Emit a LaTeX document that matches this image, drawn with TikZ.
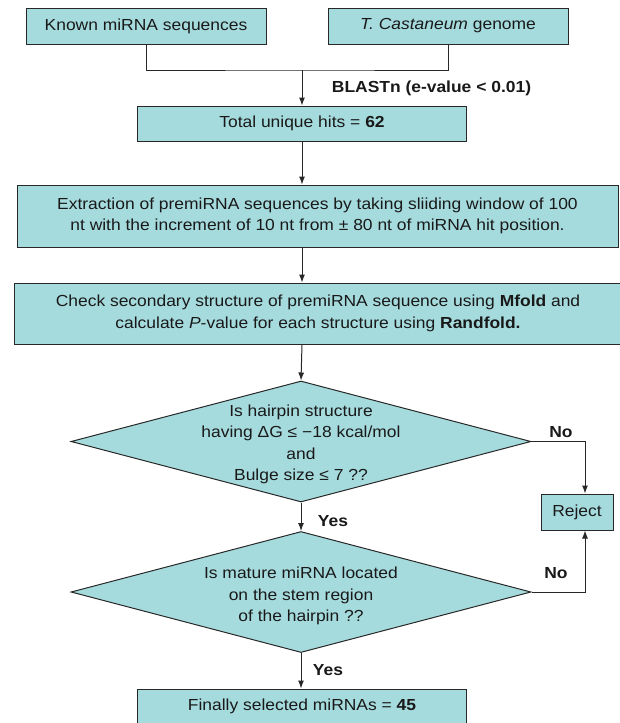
\documentclass[tikz,border=0pt]{standalone}
\usepackage{fontspec}
\setmainfont{Liberation Sans}[FakeStretch=1.09]
\usepackage{tikz}
\usetikzlibrary{shapes.geometric,arrows.meta,calc}
\definecolor{boxfill}{RGB}{166,219,222}
\definecolor{linegray}{RGB}{40,40,40}

\begin{document}
\begin{tikzpicture}[x=1pt,y=1pt,>={Latex[length=8pt,width=6pt]},
    every node/.style={font=\fontsize{16}{21.5}\selectfont, text=black!90},
    box/.style={draw=linegray, line width=1pt, fill=boxfill, inner sep=0pt, align=center},
    decision/.style={draw=linegray, line width=1pt, fill=boxfill, diamond, inner sep=0pt,
        minimum width=460pt, minimum height=121pt},
    link/.style={draw=linegray, line width=1pt},
    arrow/.style={link, ->},
    lbl/.style={font=\fontsize{16}{18}\selectfont\bfseries}]
    \useasboundingbox (0,0) rectangle (619,-723);

    % Inputs
    \node[box, minimum width=240pt, minimum height=36pt] (known) at (146,-26) {Known miRNA sequences};
    \node[box, minimum width=240pt, minimum height=36pt] (genome) at (448,-26) {\textit{T. Castaneum} genome};
    \coordinate (join) at (302,-70);
    \draw[link] (known.south) |- (join) -| (genome.south);

    % BLAST hits
    \node[box, minimum width=329pt, minimum height=35pt] (hits) at (302,-123.5) {Total unique hits = \textbf{62}};
    \draw[arrow] (join) -- (hits.north);
    \node[lbl] (blast) at (431.5,-88) {BLASTn (e-value < 0.01)};

    % Extraction
    \node[box, minimum width=601pt, minimum height=62pt] (extract) at (317.5,-216)
        {Extraction of premiRNA sequences by taking sliiding window of 100\\
         nt with the increment of 10 nt from ± 80 nt of miRNA hit position.};
    \draw[arrow] (hits.south) -- (hits.south |- extract.north);

    % Structure check
    \node[box, minimum width=608pt, minimum height=61pt] (check) at (318,-313.5)
        {Check secondary structure of premiRNA sequence using \textbf{Mfold} and\\
         calculate \textit{P}-value for each structure using \textbf{Randfold.}};
    \draw[arrow] (hits.south |- extract.south) -- (hits.south |- check.north);

    % Decisions
    \node[decision] (dia1) at (301,-441.5) {};
    \node[align=center] (q1) at ($(dia1)+(0,-3)$) {Is hairpin structure\\ having ΔG ≤ −18 kcal/mol\\ and\\ Bulge size ≤ 7 ??};
    \draw[arrow] (hits.south |- check.south) -- (dia1.north);

    \node[decision] (dia2) at (301,-592) {};
    \node[align=center] (q2) at ($(dia2)+(0,-4)$) {Is mature miRNA located\\ on the stem region\\ of the hairpin ??};
    \draw[arrow] (dia1.south) -- (dia2.north);
    \node[lbl] (yes1) at (333,-521) {Yes};

    % Reject
    \node[box, minimum width=72pt, minimum height=36pt] (reject) at (577,-512) {Reject};
    \draw[arrow] (dia1.east) -| ($(reject.north)+(8,0)$);
    \draw[arrow] (dia2.east) -| ($(reject.south)+(8,0)$);
    \node[lbl] (no1) at (561,-432) {No};
    \node[lbl] (no2) at (556,-573) {No};

    % Result
    \node[box, minimum width=329pt, minimum height=35pt] (final) at (302,-706.5) {Finally selected miRNAs = \textbf{45}};
    \draw[arrow] (dia2.south) -- (dia2.south |- final.north);
    \node[lbl] (yes2) at (328,-670) {Yes};
\end{tikzpicture}
\end{document}
